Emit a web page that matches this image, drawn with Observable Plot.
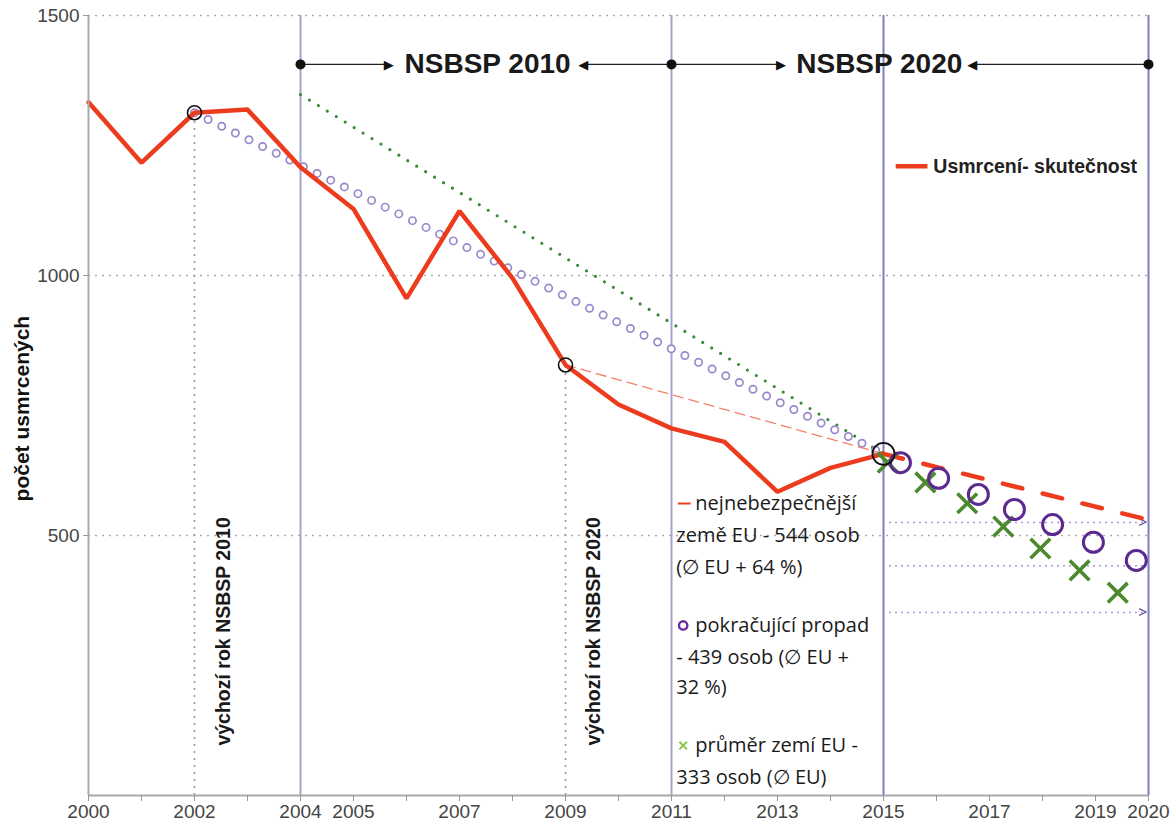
<!DOCTYPE html>
<html><head><meta charset="utf-8">
<script src="https://cdn.jsdelivr.net/npm/d3@7"></script>
<script src="https://cdn.jsdelivr.net/npm/@observablehq/plot@0.6"></script>
<style>body{margin:0;background:#fff;} #chart{width:1171px;height:827px;}</style>
</head><body><div id="chart"></div>
<script>
// ---- data ----
const years = [2000,2001,2002,2003,2004,2005,2006,2007,2008,2009,2010,2011,2012,2013,2014,2015];
const deaths = [1333,1217,1313,1319,1208,1128,956,1124,995,828,752,706,680,584,630,657];

const xLabels = [2000,2002,2004,2005,2007,2009,2011,2013,2015,2017,2019,2020];
const yTicks = [500,1000,1500];

const phaseYearsLight = [2004, 2011];
const phaseYearsDark = [2015, 2020];
const baseYears = [2002, 2009];
const baseValues = [1313, 828];

// trend lines
const trendEUYears = [2004, 2015];        // green dotted
const trendEUValues = [1348, 657];
const trendDropYears = [2002, 2015];      // purple small circles
const trendDropValues = [1313, 657];
const worstThinYears = [2009, 2015];      // red thin dashed
const worstThinValues = [828, 657];
const worstYears = [2015, 2020];          // red thick dashed
const worstValues = [657, 530];

// projections 2015-2020
const dropYears = [2015.32,2016.04,2016.79,2017.47,2018.19,2018.96,2019.77];
const dropValues = [640,610,579,550,521,487,452];
const avgYears = [2015.08,2015.79,2016.58,2017.26,2017.96,2018.70,2019.42];
const avgValues = [640,602,562,517,475,433,390];

const targetValues = [525, 442, 352];
const targetArrowValues = [525, 352];

const phaseLabels = ["NSBSP 2010", "NSBSP 2020"];
const baseLabels = ["výchozí rok NSBSP 2010", "výchozí rok NSBSP 2020"];
const legendLabel = "Usmrcení- skutečnost";
const yTitle = "počet usmrcených";
const noteHeads = ["nejnebezpečnější", "pokračující propad", "průměr zemí EU -"];
const noteLines = ["země EU - 544 osob","(∅ EU + 64 %)","- 439 osob (∅ EU +","32 %)","333 osob (∅ EU)"];

// ---- build tables ----
const actual = years.map((y,i)=>({x:y, v:deaths[i]}));
const pairs = (xs, vs) => xs.map((x,i)=>({x, v:vs[i]}));

const RED = "#ec3b1d";
const fontBase = "Liberation Sans, Arial, sans-serif";
const fontNote = "Open Sans, sans-serif";

const headY = [561.5, 327, 96];
const noteY = [500, 438.5, 265, 208, 35];
const heads = noteHeads.map((t,i)=>({t, v: headY[i]}));
const notes = noteLines.map((t,i)=>({t, v: noteY[i]}));

const chart = Plot.plot({
  width: 1171, height: 827,
  marginLeft: 88, marginRight: 23, marginTop: 15, marginBottom: 32,
  style: {fontFamily: fontBase, fontSize: "19px", color: "#444", background: "#fff"},
  x: {domain: [2000, 2020]},
  y: {domain: [0, 1500]},
  marks: [
    Plot.ruleY(yTicks, {stroke: "#aaa", strokeDasharray: "2,5", strokeWidth: 1.6}),
    Plot.ruleX(phaseYearsLight, {y1: 0, y2: 1500, stroke: "#a3a3d6", strokeWidth: 2}),
    Plot.ruleX(phaseYearsDark, {y1: 0, y2: 1500, stroke: "#7d7dc0", strokeWidth: 2}),
    Plot.ruleX(pairs(baseYears, baseValues), {x: "x", y1: 0, y2: "v", stroke: "#999", strokeDasharray: "2,5", strokeWidth: 1.6}),
    // horizontal target lines 2015-2020
    Plot.ruleY(targetValues, {x1: 2015, x2: 2019.97, stroke: "#a79ad6", strokeDasharray: "2,4", strokeWidth: 1.5}),
    Plot.text(targetArrowValues, {x: 2020, y: d => d, text: () => ">", textAnchor: "end", dx: -1, fontSize: 16, fontFamily: fontNote, fill: "#5b3a9e"}),
    // green dotted trend
    Plot.line(pairs(trendEUYears, trendEUValues), {x: "x", y: "v", stroke: "#3a8a3a", strokeWidth: 3.2, strokeDasharray: "0,10.5", strokeLinecap: "round"}),
    // purple small ring trend
    Plot.line(pairs(trendDropYears, trendDropValues), {x: "x", y: "v", stroke: "#9a88cc", strokeWidth: 9, strokeDasharray: "0,15.2", strokeLinecap: "round"}),
    Plot.line(pairs(trendDropYears, trendDropValues), {x: "x", y: "v", stroke: "#fff", strokeWidth: 5.6, strokeDasharray: "0,15.2", strokeLinecap: "round"}),
    // red thin dashed
    Plot.line(pairs(worstThinYears, worstThinValues), {x: "x", y: "v", stroke: "#f2806a", strokeWidth: 1.3, strokeDasharray: "10,6"}),
    // red thick dashed
    Plot.line(pairs(worstYears, worstValues), {x: "x", y: "v", stroke: RED, strokeWidth: 4.5, strokeDasharray: "20,21"}),
    // actual
    Plot.line(actual, {x: "x", y: "v", stroke: RED, strokeWidth: 4.5, strokeLinejoin: "miter"}),
    // projections
    Plot.dot(pairs(avgYears, avgValues), {x: "x", y: "v", symbol: "times", r: 9, stroke: "#4a8a2c", strokeWidth: 3.6}),
    Plot.dot(pairs(dropYears, dropValues), {x: "x", y: "v", r: 10, stroke: "#5b2a8e", strokeWidth: 3, fill: "none"}),
    // black circles
    Plot.dot(pairs(baseYears, baseValues), {x: "x", y: "v", r: 7, stroke: "#111", strokeWidth: 1.6}),
    Plot.dot([{x: 2015, v: 657}], {x: "x", y: "v", r: 11, stroke: "#111", strokeWidth: 1.8}),
    // axes
    Plot.ruleX([2000], {stroke: "#aaa", strokeWidth: 2}),
    Plot.ruleY([0], {stroke: "#aaa", strokeWidth: 2}),
    Plot.axisX({ticks: d3.range(2000, 2021), tickFormat: d => xLabels.includes(d) ? String(d) : "", tickSize: 6, tickPadding: 3, fontSize: 19, stroke: "#999", fill: "#444", label: null}),
    Plot.axisY({ticks: yTicks, tickFormat: d => String(d), tickSize: 5, tickPadding: 4, fontSize: 19, stroke: "#999", fill: "#444", label: null}),
    // top phase arrows
    Plot.link([{x1:2004,x2:2005.65},{x1:2011,x2:2009.35},{x1:2011,x2:2013.05},{x1:2020,x2:2016.7}], {x1:"x1", x2:"x2", y1:1406, y2:1406, stroke:"#222", strokeWidth:1.3}),
    Plot.text([2005.76, 2013.16], {x: d => d, y: 1406, text: () => "▶", textAnchor: "end", fontSize: 13, fill: "#111", fontFamily: "DejaVu Sans"}),
    Plot.text([2009.24, 2016.58], {x: d => d, y: 1406, text: () => "◀", textAnchor: "start", fontSize: 13, fill: "#111", fontFamily: "DejaVu Sans"}),
    Plot.dot([2004, 2011, 2020], {x: d => d, y: 1406, r: 5, fill: "#111"}),
    Plot.text(phaseLabels, {x: [2007.53, 2014.92], y: 1406, text: d => d, fontSize: 28, fontWeight: "bold", fill: "#1a1a1a"}),
    // base year labels
    Plot.text(baseLabels, {x: [2002.55, 2009.53], y: 96, text: d => d, rotate: -90, textAnchor: "start", fontSize: 19.5, fontWeight: "bold", fill: "#1a1a1a"}),
    // legend
    Plot.link([0], {x1: 2015.23, x2: 2015.83, y1: 1210, y2: 1210, stroke: RED, strokeWidth: 4.5}),
    Plot.text([legendLabel], {x: 2015.94, y: 1210, text: d => d, textAnchor: "start", fontSize: 19.5, fontWeight: "bold", fill: "#222"}),
    // y title
    Plot.text([yTitle], {x: 2000, y: 744, dx: -66, text: d => d, rotate: -90, fontSize: 21, fontWeight: "bold", fill: "#111"}),
    // notes
    Plot.link([0], {x1: 2011.12, x2: 2011.36, y1: 561.5, y2: 561.5, stroke: RED, strokeWidth: 2}),
    Plot.dot([0], {x: 2011.22, y: 327, r: 4.2, stroke: "#6a2aa0", strokeWidth: 2.4}),
    Plot.dot([0], {x: 2011.22, y: 96, r: 3.5, symbol: "times", stroke: "#8bc34a", strokeWidth: 2}),
    Plot.text(heads, {x: 2011.45, y: "v", text: "t", textAnchor: "start", fontSize: 20, fontFamily: fontNote, fill: "#1a1a1a"}),
    Plot.text(notes, {x: 2011.09, y: "v", text: "t", textAnchor: "start", fontSize: 20, fontFamily: fontNote, fill: "#1a1a1a"})
  ]
});
document.getElementById("chart").appendChild(chart);
</script></body></html>
